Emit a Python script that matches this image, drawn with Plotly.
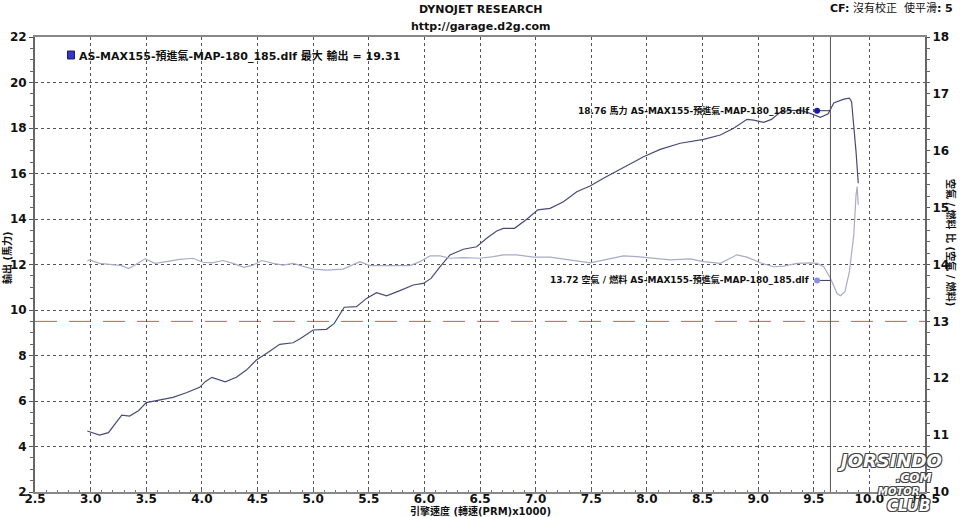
import plotly.graph_objects as go

# ---------------- data ----------------
rpm_hp = [2.97, 3.08, 3.16, 3.22, 3.28, 3.35, 3.43, 3.50, 3.62, 3.74, 3.86, 3.98, 4.03, 4.09,
          4.21, 4.31, 4.40, 4.49, 4.59, 4.70, 4.82, 4.89, 5.00, 5.12, 5.19, 5.24, 5.28, 5.39,
          5.48, 5.57, 5.66, 5.78, 5.90, 5.99, 6.06, 6.14, 6.23, 6.35, 6.47, 6.56, 6.65, 6.71,
          6.81, 6.92, 7.02, 7.13, 7.25, 7.37, 7.49, 7.61, 7.79, 7.97, 8.12, 8.30, 8.51, 8.66,
          8.78, 8.90, 8.96, 9.05, 9.12, 9.20, 9.29, 9.40, 9.48, 9.56, 9.63, 9.68, 9.77, 9.82,
          9.84, 9.86, 9.88, 9.90]
hp = [4.68, 4.50, 4.61, 5.02, 5.38, 5.34, 5.57, 5.93, 6.04, 6.16, 6.36, 6.60, 6.85, 7.04,
      6.84, 7.04, 7.36, 7.80, 8.12, 8.49, 8.56, 8.76, 9.12, 9.15, 9.41, 9.78, 10.12, 10.15,
      10.51, 10.76, 10.62, 10.85, 11.10, 11.17, 11.39, 11.90, 12.42, 12.67, 12.78, 13.15, 13.47, 13.59,
      13.59, 13.99, 14.40, 14.47, 14.76, 15.20, 15.45, 15.79, 16.27, 16.74, 17.06, 17.33, 17.50, 17.69,
      17.99, 18.38, 18.35, 18.25, 18.38, 18.70, 18.78, 18.75, 18.62, 18.47, 18.62, 19.10, 19.27, 19.31,
      19.16, 18.13, 16.96, 15.57]

rpm_afr = [2.97, 2.99, 3.08, 3.20, 3.28, 3.34, 3.40, 3.49, 3.58, 3.68, 3.80, 3.92, 4.01, 4.09,
           4.19, 4.28, 4.38, 4.46, 4.54, 4.64, 4.73, 4.82, 4.88, 5.00, 5.12, 5.27, 5.34, 5.42,
           5.51, 5.66, 5.87, 5.96, 6.05, 6.14, 6.23, 6.35, 6.50, 6.62, 6.71, 6.83, 6.98, 7.13,
           7.34, 7.49, 7.64, 7.79, 7.91, 8.06, 8.21, 8.39, 8.51, 8.66, 8.81, 8.90, 9.02, 9.14,
           9.23, 9.35, 9.47, 9.53, 9.59, 9.65, 9.71, 9.74, 9.78, 9.82, 9.86, 9.88, 9.89, 9.90]
afr = [14.06, 14.08, 14.02, 14.00, 13.98, 13.93, 13.99, 14.10, 14.02, 14.05, 14.09, 14.11, 14.04, 14.03,
       14.07, 14.02, 13.95, 13.99, 14.07, 14.02, 13.99, 14.02, 13.99, 13.92, 13.90, 13.92, 13.98, 14.05,
       13.98, 13.98, 13.98, 14.05, 14.15, 14.15, 14.11, 14.12, 14.11, 14.14, 14.17, 14.17, 14.13, 14.13,
       14.07, 14.03, 14.09, 14.15, 14.14, 14.11, 14.08, 14.10, 14.05, 14.02, 14.17, 14.13, 14.03, 13.96,
       13.97, 14.02, 14.03, 14.02, 13.96, 13.76, 13.49, 13.45, 13.52, 13.87, 14.52, 15.22, 15.37, 15.05]

cursor_rpm = 9.65
cursor_hp = 18.76
cursor_afr = 13.72
max_hp = 19.31
afr_target = 13.0
run_name = "AS-MAX155-預進氣-MAP-180_185.dlf"

x_ticks = [2.5 + 0.5 * i for i in range(17)]
y_ticks = list(range(2, 23, 2))
y2_ticks = list(range(10, 19))

# ---------------- layout helpers ----------------
W, H = 960, 517
ML, MR, MT, MB = 35, 35, 37, 25
PW, PH = W - ML - MR, H - MT - MB


def px(x):
    return (x - ML) / PW


def py(y):
    return (H - MB - y) / PH


FONT = "DejaVu Sans, Verdana, Noto Sans CJK TC, sans-serif"
HP_COLOR = "#4a4a78"
AFR_COLOR = "#aaaacb"

fig = go.Figure()

fig.add_trace(go.Scatter(x=rpm_hp, y=hp, mode="lines",
                         line=dict(color=HP_COLOR, width=1.2), hoverinfo="skip"))
fig.add_trace(go.Scatter(x=rpm_afr, y=afr, mode="lines", yaxis="y2",
                         line=dict(color=AFR_COLOR, width=1.2), hoverinfo="skip"))

# cursor markers, offset left of the cursor line
dot_x = cursor_rpm - 0.12
fig.add_trace(go.Scatter(x=[dot_x, cursor_rpm], y=[cursor_hp, cursor_hp], mode="lines",
                         line=dict(color="#333366", width=1), hoverinfo="skip"))
fig.add_trace(go.Scatter(x=[dot_x], y=[cursor_hp], mode="markers",
                         marker=dict(color="#1a1aa8", size=6), hoverinfo="skip"))
fig.add_trace(go.Scatter(x=[dot_x, cursor_rpm], y=[cursor_afr, cursor_afr], mode="lines", yaxis="y2",
                         line=dict(color="#333366", width=1), hoverinfo="skip"))
fig.add_trace(go.Scatter(x=[dot_x], y=[cursor_afr], mode="markers", yaxis="y2",
                         marker=dict(color="#8c8ce0", size=6), hoverinfo="skip"))

# reference AFR line and cursor line
fig.add_shape(type="line", xref="paper", x0=0, x1=1, yref="y2", y0=afr_target, y1=afr_target,
              line=dict(color="#c85a5a", width=1, dash="22px,12px"), layer="below")
fig.add_shape(type="line", xref="x", x0=cursor_rpm, x1=cursor_rpm, yref="paper", y0=0, y1=1,
              line=dict(color="#555555", width=1))

# legend square
fig.add_shape(type="rect", xref="paper", yref="paper",
              x0=px(67.5), x1=px(74.5), y0=py(59), y1=py(51),
              fillcolor="#3535c8", line=dict(color="#1c1c70", width=1))

ann = []
ann.append(dict(text="<b>DYNOJET RESEARCH</b>", x=px(480), y=py(10), font=dict(size=11)))
ann.append(dict(text="<b>http://garage.d2g.com</b>", x=px(480), y=py(26), font=dict(size=11)))
ann.append(dict(text="<b>CF:</b> 沒有校正  使平滑<b>: 5</b>", x=px(955), y=py(8), xanchor="right",
                font=dict(size=11)))
ann.append(dict(text=f"<b>{run_name} 最大 輸出 = {max_hp:.2f}</b>", x=px(77), y=py(56),
                xanchor="left", font=dict(size=11)))
ann.append(dict(text=f"<b>{cursor_hp:.2f} 馬力 {run_name}</b>", x=px(811), y=py(110),
                xanchor="right", font=dict(size=9)))
ann.append(dict(text=f"<b>{cursor_afr:.2f} 空氣 / 燃料 {run_name}</b>", x=px(811), y=py(279),
                xanchor="right", font=dict(size=9)))
ann.append(dict(text="<b>引擎速度 (轉速(PRM)x1000)</b>", x=px(480), y=py(511), font=dict(size=10)))
ann.append(dict(text="<b>輸出 (馬力)</b>", x=px(7), y=py(258), textangle=-90, font=dict(size=10)))
ann.append(dict(text="<b>空氣 / 燃料 比 (空氣 / 燃料)</b>", x=px(951), y=py(243), textangle=90,
                font=dict(size=10)))
# watermark
wm_shadow = "-1px -1px 0 #444, 1px -1px 0 #444, -1px 1px 0 #444, 1px 1px 0 #444"
ann.append(dict(text="<b><i>JORSINDO</i></b>", x=px(890), y=py(460),
                font=dict(size=18, color="white", shadow=wm_shadow, family="DejaVu Sans")))
ann.append(dict(text="<b><i>.COM</i></b>", x=px(914), y=py(478),
                font=dict(size=12, color="white", shadow=wm_shadow, family="DejaVu Sans")))
ann.append(dict(text="<b><i>MOTOR</i></b>", x=px(898), y=py(491),
                font=dict(size=10, color="white", shadow=wm_shadow, family="DejaVu Sans")))
ann.append(dict(text="<b><i>CLUB</i></b>", x=px(908), y=py(506),
                font=dict(size=15, color="white", shadow=wm_shadow, family="DejaVu Sans")))

for a in ann:
    a.setdefault("xref", "paper")
    a.setdefault("yref", "paper")
    a.setdefault("xanchor", "center")
    a.setdefault("yanchor", "middle")
    a.setdefault("showarrow", False)
    f = a.setdefault("font", {})
    f.setdefault("family", FONT)
    f.setdefault("color", "#111111")
fig.update_layout(annotations=ann)

tickfont = dict(family=FONT, size=12, color="#111111", weight="bold")

fig.update_layout(
    width=W, height=H,
    margin=dict(l=ML, r=MR, t=MT, b=MB, autoexpand=False),
    paper_bgcolor="white", plot_bgcolor="white",
    showlegend=False,
    xaxis=dict(range=[2.5, 10.5], tickvals=x_ticks, ticktext=[f"{v:.1f}" for v in x_ticks],
               showgrid=True, gridcolor="#555555", griddash="dot", gridwidth=1,
               showline=True, linecolor="#888888", linewidth=2, mirror=True,
               ticks="inside", ticklen=3, tickcolor="#666666", ticklabelstandoff=-5,
               minor=dict(dtick=0.1, ticks="inside", ticklen=2, tickcolor="#777777"),
               tickfont=tickfont, zeroline=False, fixedrange=True, automargin=False),
    yaxis=dict(range=[2, 22], tickvals=y_ticks,
               showgrid=True, gridcolor="#555555", griddash="dot", gridwidth=1,
               showline=True, linecolor="#666666", linewidth=2,
               ticks="outside", ticklen=4, tickcolor="#555555",
               minor=dict(dtick=0.5, ticks="outside", ticklen=3, tickcolor="#666666"),
               tickfont=tickfont, zeroline=False, fixedrange=True, automargin=False),
    yaxis2=dict(range=[10, 18], tickvals=y2_ticks, overlaying="y", side="right",
                showgrid=False, showline=True, linecolor="#666666", linewidth=2,
                ticks="outside", ticklen=3, tickcolor="#555555",
                minor=dict(dtick=0.2, ticks="outside", ticklen=3, tickcolor="#666666"),
                tickfont=tickfont, zeroline=False, fixedrange=True, automargin=False),
)

fig.write_html("out.html")
